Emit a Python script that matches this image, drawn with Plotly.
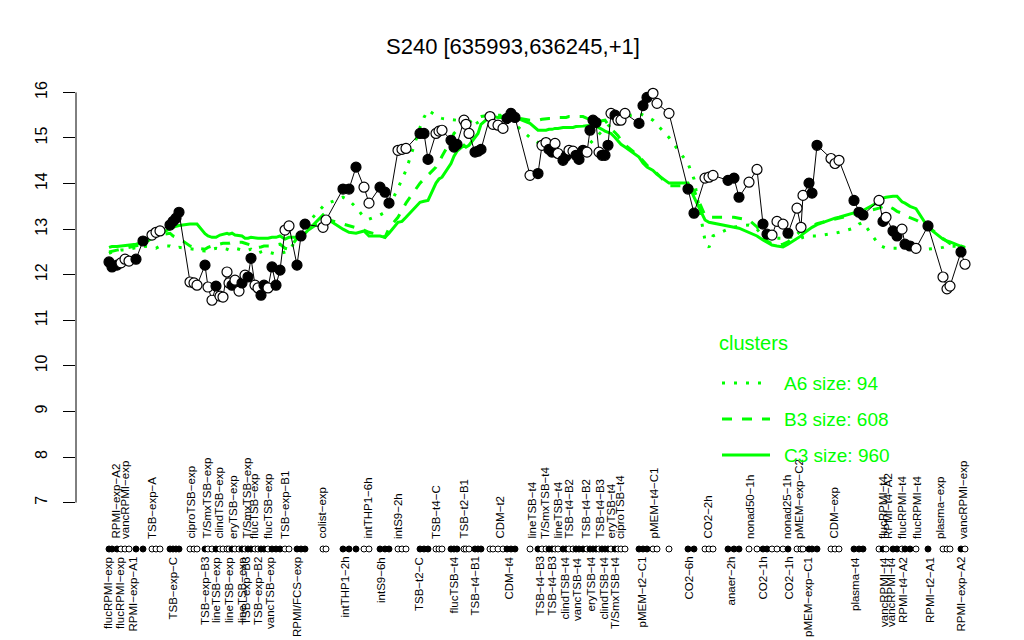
import plotly.graph_objects as go

TITLE = "S240 [635993,636245,+1]"

# ---- data: condition positions along the axis, expression, filled marker flag ----
cond_pos = [9, 12, 17, 21, 25, 29, 36, 43,
            52, 56, 60,
            70, 73, 76, 79,
            90, 94, 97,
            105, 108, 112, 116, 120, 123, 127, 129, 132, 135, 139, 142, 145, 148, 151, 155, 158, 161, 164, 168, 172, 176, 180, 185, 189,
            197, 201, 205,
            223, 226,
            243, 249, 256,
            264, 269,
            280, 285, 289,
            298, 302, 306,
            320, 324, 328,
            336, 339, 342,
            351, 354, 357,
            364, 366, 369,
            375, 378, 381,
            390, 393, 398, 403,
            407, 411, 415,
            430,
            438, 442, 446, 449, 452, 455, 458, 463, 466, 469, 473, 476, 479, 483, 487, 490, 493, 496, 499, 502, 505, 508, 511, 515, 518, 521, 525,
            539, 543, 547,
            553, 557,
            569,
            588, 594,
            605, 609, 613,
            628, 634, 639,
            649, 657,
            663, 667, 672, 677, 683, 688,
            697, 701, 703,
            709, 712, 717,
            731, 735, 739,
            754, 759, 763,
            779, 783, 786, 793, 797, 802, 805, 810, 816,
            828,
            843, 847, 850,
            861, 865]

expr = [12.28, 12.17, 12.21, 12.26, 12.34, 12.30, 12.34, 12.74,
        12.87, 12.93, 12.96,
        13.09, 13.17, 13.24, 13.37,
        11.84, 11.82, 11.77,
        12.21, 11.73, 11.44, 11.75, 11.53, 11.51, 12.06, 11.82, 11.77, 11.88, 11.64, 11.82, 11.99, 11.95, 12.36, 11.77, 11.71, 11.55, 11.77, 11.71, 12.17, 11.77, 12.10, 12.98, 13.07,
        12.21, 12.85, 13.11,
        13.04, 13.20,
        13.88, 13.88, 14.36,
        13.92, 13.57,
        13.92, 13.81, 13.57,
        14.73, 14.75, 14.77,
        15.10, 15.10, 14.53,
        15.10, 15.15, 15.17,
        14.95, 14.80, 14.86,
        15.39, 15.30, 15.10,
        14.69, 14.71, 14.75,
        15.47, 15.30, 15.28, 15.21,
        15.43, 15.54, 15.45,
        14.18,
        14.22, 14.84, 14.90, 14.75, 14.69, 14.88, 14.66, 14.51, 14.60, 14.73, 14.71, 14.62, 14.53, 14.73, 14.69, 15.17, 15.39, 15.34, 14.69, 14.62, 14.62, 14.84, 15.54, 15.50, 15.39, 15.39, 15.54,
        15.32, 15.71, 15.89,
        15.98, 15.76,
        15.54,
        13.88, 13.35,
        14.12, 14.14, 14.18,
        14.07, 14.12, 13.70,
        14.03, 14.31,
        13.11, 12.89, 12.87, 13.17, 13.11, 12.91,
        13.46, 13.04, 13.74,
        14.01, 13.79, 14.84,
        14.55, 14.44, 14.51,
        13.63, 13.37, 13.31,
        13.63, 13.17, 13.26, 12.96, 12.85, 13.00, 12.67, 12.63, 12.58,
        13.07,
        11.95, 11.69, 11.75,
        12.50, 12.23]

filled = [1, 1, 1, 0, 0, 0, 1, 1,
          0, 0, 0,
          1, 1, 1, 1,
          0, 0, 0,
          1, 0, 0, 1, 0, 0, 0, 0, 1, 0, 0, 1, 0, 1, 1, 0, 0, 1, 1, 0, 1, 1, 1, 0, 0,
          1, 1, 1,
          0, 0,
          1, 1, 1,
          0, 0,
          1, 1, 1,
          0, 0, 0,
          1, 1, 1,
          0, 0, 0,
          1, 1, 1,
          0, 0, 0,
          1, 1, 1,
          0, 0, 0, 0,
          1, 1, 1,
          0,
          1, 0, 0, 1, 1, 0, 0, 1, 1, 0, 0, 1, 1, 1, 0, 1, 1, 1, 0, 1, 1, 1, 0, 1, 0, 0, 0,
          1, 1, 1,
          0, 0,
          0,
          1, 1,
          0, 0, 0,
          1, 1, 1,
          0, 0,
          1, 1, 0, 0, 0, 1,
          0, 0, 0,
          1, 1, 1,
          0, 0, 0,
          1, 1, 1,
          0, 1, 0, 1, 1, 0, 1, 1, 0,
          1,
          0, 0, 0,
          1, 0]

# ---- cluster mean profiles ----
A6 = [12.47, 12.50, 12.52, 12.54, 12.54, 12.56, 12.58, 12.63,
      12.60, 12.58, 12.63,
      12.63, 12.60, 12.58, 12.60,
      12.58, 12.56, 12.54,
      12.52, 12.54, 12.56, 12.58, 12.56, 12.58, 12.56, 12.54, 12.56, 12.58, 12.56, 12.54, 12.52, 12.54, 12.56, 12.50, 12.47, 12.50, 12.52, 12.50, 12.47, 12.45, 12.47, 12.50, 12.52,
      12.80, 12.93, 13.07,
      13.50, 13.55,
      13.70, 13.63, 13.48,
      13.26, 13.22,
      13.31, 13.37, 13.48,
      13.90, 14.10, 14.29,
      15.23, 15.45, 15.61,
      15.50, 15.45, 15.43,
      15.41, 15.39, 15.39,
      15.37, 15.34, 15.32,
      15.30, 15.34, 15.39,
      15.43, 15.47, 15.50, 15.50,
      15.45, 15.39, 15.30,
      15.01,
      14.90, 14.84, 14.86, 14.84, 14.80, 14.77, 14.73, 14.71, 14.69, 14.69, 14.69, 14.71, 14.73, 14.75, 14.77, 14.88, 14.95, 15.01, 15.10, 15.15, 15.19, 15.26, 15.30, 15.34, 15.39, 15.43, 15.47,
      15.54, 15.50, 15.47,
      15.39, 15.30,
      15.01,
      14.44, 14.10,
      12.75, 12.60, 12.85,
      13.00, 13.04, 13.07,
      13.09, 13.00,
      12.85, 12.80, 12.80, 12.80, 12.80, 12.82,
      12.82, 12.80, 12.82,
      12.84, 12.85, 12.85,
      12.89, 12.91, 12.93,
      13.02, 13.11, 13.15,
      12.65, 12.60, 12.58, 12.58, 12.58, 12.60, 12.62, 12.63, 12.63,
      12.56,
      12.60, 12.63, 12.63,
      12.62, 12.60]

B3 = [12.50, 12.52, 12.54, 12.56, 12.58, 12.60, 12.62, 12.67,
      12.80, 12.85, 12.87,
      12.91, 12.85, 12.82, 12.80,
      12.63, 12.60, 12.58,
      12.56, 12.60, 12.63, 12.65, 12.67, 12.69, 12.69, 12.69, 12.71, 12.69, 12.71, 12.71, 12.69, 12.67, 12.65, 12.63, 12.60, 12.61, 12.63, 12.63, 12.63, 12.65, 12.67, 12.58, 12.56,
      12.80, 12.85, 12.93,
      13.20, 13.22,
      13.11, 13.07, 13.04,
      12.98, 12.93,
      12.87, 12.82, 13.02,
      13.26, 13.42, 13.57,
      14.01, 14.10, 14.20,
      14.36, 14.47, 14.60,
      14.95, 15.10, 15.17,
      15.26, 15.30, 15.34,
      15.43, 15.45, 15.47,
      15.50, 15.50, 15.50, 15.47,
      15.47, 15.45, 15.45,
      15.39,
      15.39, 15.41, 15.43, 15.43, 15.43, 15.45, 15.45, 15.45, 15.45, 15.47, 15.47, 15.47, 15.47, 15.47, 15.43, 15.41, 15.39, 15.39, 15.36, 15.38, 15.39, 15.30, 15.20, 15.12, 15.05, 14.95, 14.85,
      14.60, 14.50, 14.40,
      14.30, 14.22,
      13.95,
      13.95, 13.85,
      13.30, 13.26, 13.26,
      13.26, 13.26, 13.24,
      13.20, 13.05,
      12.82, 12.74, 12.68, 12.65, 12.67, 12.72,
      12.88, 12.96, 13.00,
      13.05, 13.08, 13.12,
      13.20, 13.22, 13.24,
      13.33, 13.35, 13.37,
      13.46, 13.50, 13.53, 13.45, 13.39, 13.35, 13.30, 13.25, 13.20,
      13.05,
      12.80, 12.72, 12.68,
      12.63, 12.60]

C3 = [12.60, 12.62, 12.62, 12.63, 12.63, 12.65, 12.67, 12.71,
      12.80, 12.85, 12.90,
      13.02, 13.04, 13.06, 13.08,
      13.11, 13.11, 13.11,
      12.90, 12.85, 12.82, 12.82, 12.87, 12.89, 12.91, 12.89, 12.91, 12.87, 12.85, 12.85, 12.80, 12.80, 12.82, 12.80, 12.80, 12.80, 12.80, 12.80, 12.82, 12.82, 12.85, 12.78, 12.82,
      12.82, 12.85, 12.91,
      13.31, 13.24,
      13.00, 12.93, 12.91,
      12.96, 12.85,
      12.85, 12.82, 12.91,
      13.15, 13.17, 13.26,
      13.59, 13.61, 13.63,
      14.01, 14.10, 14.14,
      14.44, 14.60, 14.71,
      14.84, 14.80, 14.84,
      15.01, 15.10, 15.30,
      15.47, 15.47, 15.45, 15.45,
      15.45, 15.45, 15.45,
      15.32,
      15.17, 15.17, 15.17, 15.19, 15.19, 15.21, 15.21, 15.23, 15.23, 15.23, 15.23, 15.25, 15.25, 15.26, 15.27, 15.28, 15.28, 15.26, 15.23, 15.19, 15.15, 15.12, 15.10, 15.01, 14.93, 14.86, 14.80,
      14.58, 14.45, 14.36,
      14.29, 14.20,
      14.01,
      14.01, 13.70,
      13.20, 13.15, 13.13,
      13.07, 13.04, 13.02,
      12.93, 12.85,
      12.76, 12.71, 12.65, 12.63, 12.61, 12.67,
      12.80, 12.85, 12.90,
      13.00, 13.04, 13.10,
      13.22, 13.24, 13.26,
      13.37, 13.39, 13.41,
      13.60, 13.68, 13.70, 13.72, 13.72, 13.60, 13.57, 13.50, 13.45,
      13.04,
      12.78, 12.74, 12.72,
      12.62, 12.58]

cluster_names = ["A6 size: 94", "B3 size: 608", "C3 size: 960"]

# ---- axis labels (condition names) ----
top_pos = [15, 25, 52, 90, 106, 118, 133, 146, 154, 168, 185, 221, 267, 298, 336, 363, 399, 431, 445,
           457, 468, 485, 499, 510, 520, 553, 607, 650, 687, 699, 733, 783, 788, 802, 817, 840, 863]
top_labels = ["RPMI\u2212exp\u2212A2", "vancRPMI\u2212exp", "TSB\u2212exp\u2212A", "ciproTSB\u2212exp",
              "T/SmxTSB\u2212exp", "clindTSB\u2212exp", "eryTSB\u2212exp", "T/SmxTSB\u2212exp",
              "flucTSB\u2212exp", "flucTSB\u2212exp", "TSB\u2212exp\u2212B1", "colist\u2212exp",
              "intTHP1\u22126h", "intS9\u22122h", "TSB\u2212t4\u2212C", "TSB\u2212t2\u2212B1", "CDM\u2212t2",
              "lineTSB\u2212t4", "T/SmxTSB\u2212t4", "lineTSB\u2212t4", "TSB\u2212t4\u2212B2",
              "TSB\u2212t4\u2212B2", "TSB\u2212t4\u2212B3", "eryTSB\u2212t4", "ciproTSB\u2212t4",
              "pMEM\u2212t4\u2212C1", "CO2\u22122h", "nonad50\u22121h", "nonad25\u22121h",
              "pMEM\u2212exp\u2212C2", "CDM\u2212exp", "flucRPMI\u2212t4", "RPMI\u2212t4\u2212A2",
              "flucRPMI\u2212t4", "flucRPMI\u2212t4", "plasma\u2212exp", "vancRPMI\u2212exp"]
bot_pos = [8, 20, 32, 72, 105, 116, 129, 142, 146, 158, 170, 197, 244, 281, 319, 353, 374, 408,
           439, 451, 464, 477, 490, 503, 515, 541, 588, 630, 662, 688, 708, 755, 784, 791, 803, 830, 860]
bot_labels = ["flucRPMI\u2212exp", "flucRPMI\u2212exp", "RPMI\u2212exp\u2212A1", "TSB\u2212exp\u2212C",
              "TSB\u2212exp\u2212B3", "lineTSB\u2212exp", "lineTSB\u2212exp", "lineTSB\u2212exp",
              "TSB\u2212exp\u2212B3", "TSB\u2212exp\u2212B2", "vancTSB\u2212exp", "RPMI/FCS\u2212exp",
              "intTHP1\u22122h", "intS9\u22126h", "TSB\u2212t2\u2212C", "flucTSB\u2212t4", "TSB\u2212t4\u2212B1",
              "CDM\u2212t4", "TSB\u2212t4\u2212B3", "TSB\u2212t4\u2212B3", "clindTSB\u2212t4", "vancTSB\u2212t4",
              "eryTSB\u2212t4", "clindTSB\u2212t4", "T/SmxTSB\u2212t4", "pMEM\u2212t2\u2212C1", "CO2\u22126h",
              "anaer\u22122h", "CO2\u22121h", "CO2\u22121h", "pMEM\u2212exp\u2212C1", "plasma\u2212t4",
              "vancRPMI\u2212t4", "vancRPMI\u2212t4", "RPMI\u2212t4\u2212A2", "RPMI\u2212t2\u2212A1",
              "RPMI\u2212exp\u2212A2"]

y_ticks = list(range(7, 17))

# ---- figure geometry (pixels) ----
W, H = 1024, 640
L, R, T = 76, 25, 76
PAPER_BOTTOM = 600          # bottom of the paper area in px
MAIN_BOTTOM = 519           # bottom of the main plotting region in px
STRIP_CENTER = 549          # y of the strip of condition markers
B = H - PAPER_BOTTOM
X_RANGE = [-24, 899]
Y_RANGE = [6.64, 16.36]
GREEN = "#00FF00"
FONT = "Liberation Sans, Arial, Helvetica, sans-serif"
PW, PH = W - L - R, PAPER_BOTTOM - T


def px_x(px):
    return (px - L) / PW


def px_y(py):
    return (PAPER_BOTTOM - py) / PH


fig = go.Figure()

dashes = ["3px,9px", "10px,10px", "solid"]
for vals, dash in zip([A6, B3, C3], dashes):
    fig.add_trace(go.Scatter(x=cond_pos, y=vals, mode="lines",
                             line=dict(color=GREEN, width=3, dash=dash),
                             hoverinfo="skip", showlegend=False))

fig.add_trace(go.Scatter(x=cond_pos, y=expr, mode="lines",
                         line=dict(color="black", width=1), hoverinfo="skip", showlegend=False))
fig.add_trace(go.Scatter(x=cond_pos, y=expr, mode="markers",
                         marker=dict(size=10, symbol="circle",
                                     color=["black" if f else "white" for f in filled],
                                     line=dict(color="black", width=1.2)),
                         showlegend=False))

# strip of condition markers below the plot (own small axis)
fig.add_trace(go.Scatter(x=cond_pos, y=[0.5] * len(cond_pos), mode="markers", yaxis="y2",
                         marker=dict(size=6, symbol="circle",
                                     color=["black" if f else "white" for f in filled],
                                     line=dict(color="black", width=1)),
                         showlegend=False, hoverinfo="skip"))

annotations = []
for p, lab in zip(top_pos, top_labels):
    annotations.append(dict(x=p, xref="x", y=px_y(541), yref="paper", text=lab,
                            textangle=-90, showarrow=False, xanchor="center", yanchor="bottom",
                            font=dict(size=11.5, color="black", family=FONT)))
for p, lab in zip(bot_pos, bot_labels):
    annotations.append(dict(x=p, xref="x", y=px_y(555), yref="paper", text=lab,
                            textangle=-90, showarrow=False, xanchor="center", yanchor="top",
                            font=dict(size=11.5, color="black", family=FONT)))

# title
annotations.append(dict(x=px_x(513), y=px_y(47), xref="paper", yref="paper", text=TITLE,
                        showarrow=False, xanchor="center", yanchor="middle",
                        font=dict(size=22, color="black", family=FONT)))

# legend
annotations.append(dict(x=px_x(717), y=px_y(343), xref="paper", yref="paper", text="clusters",
                        showarrow=False, xanchor="left", yanchor="middle",
                        font=dict(size=20, color=GREEN, family=FONT)))
shapes = []
leg_y = [383, 419, 455]
for name, dash, ly in zip(cluster_names, dashes, leg_y):
    shapes.append(dict(type="line", xref="paper", yref="paper",
                       x0=px_x(722), x1=px_x(770), y0=px_y(ly), y1=px_y(ly),
                       line=dict(color=GREEN, width=3, dash=dash)))
    annotations.append(dict(x=px_x(782), y=px_y(ly), xref="paper", yref="paper", text=name,
                            showarrow=False, xanchor="left", yanchor="middle",
                            font=dict(size=19, color=GREEN, family=FONT)))

# y axis line spanning the tick range
shapes.append(dict(type="line", xref="paper", yref="y", x0=0, x1=0,
                   y0=y_ticks[0], y1=y_ticks[-1], line=dict(color="black", width=1)))

fig.update_layout(
    width=W, height=H,
    margin=dict(l=L, r=R, t=T, b=B),
    paper_bgcolor="white", plot_bgcolor="white",
    xaxis=dict(range=X_RANGE, visible=False, showgrid=False, zeroline=False),
    yaxis=dict(range=Y_RANGE, domain=[px_y(MAIN_BOTTOM), 1], tickvals=y_ticks,
               ticks="outside", ticklen=12,
               tickcolor="black", tickwidth=1, tickangle=-90, showgrid=False,
               zeroline=False, showline=False, ticklabelstandoff=10,
               tickfont=dict(size=16, color="black", family=FONT)),
    yaxis2=dict(range=[0, 1], domain=[px_y(STRIP_CENTER + 10), px_y(STRIP_CENTER - 10)],
                visible=False, showgrid=False, zeroline=False),
    annotations=annotations,
    shapes=shapes,
    showlegend=False,
)

fig.write_html("out.html", config={"displayModeBar": False},
               post_script="document.body.style.margin='0px';")
